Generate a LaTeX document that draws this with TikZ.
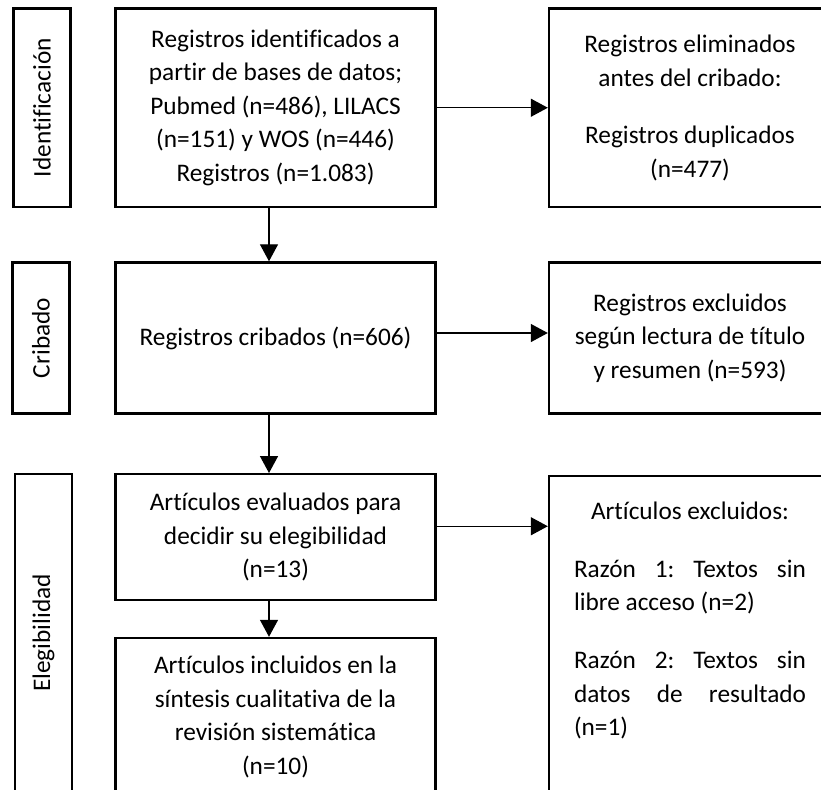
\documentclass[tikz,border=0pt]{standalone}
\usepackage{fontspec}
\setmainfont{Carlito}[Ligatures=NoCommon]
\usetikzlibrary{arrows.meta, positioning, calc}

\begin{document}
\begin{tikzpicture}[x=1pt, y=-1pt,
    font=\fontsize{25.3}{33.5}\selectfont,
    caja/.style={draw, line width=2.4pt, inner sep=0pt},
    centro/.style={caja, align=center},
    etapa/.style={caja, rotate=90, minimum height=57pt},
    flecha/.style={line width=1.3pt, -{Triangle[length=17pt, width=18pt]}}]
    \useasboundingbox (0,0) rectangle (821,789);
    \clip (0,0) rectangle (821,789);
    % etapas
    \node[etapa, minimum width=198.5pt] (ident) at (42,107.75) {Identificación};
    \node[etapa, minimum width=151pt] (crib) at (41,338) {Cribado};
    \node[etapa, minimum width=318pt] (eleg) at (43.5,633) {Elegibilidad};
    % columna central
    \node[centro, minimum width=320pt, minimum height=198.5pt] (reg) at (275.5,107.75) {Registros identificados a\\partir de bases de datos;\\Pubmed (n=486), LILACS\\(n=151) y WOS (n=446)\\Registros (n=1.083)};
    \node[centro, minimum width=320pt, minimum height=151pt] (crb) at (275.5,338) {Registros cribados (n=606)};
    \node[centro, minimum width=320pt, minimum height=126pt] (eval) at (275.5,537.25) {Artículos evaluados para\\decidir su elegibilidad\\(n=13)};
    \node[centro, minimum width=320pt, minimum height=158pt] (incl) at (275.5,717) {Artículos incluidos en la\\síntesis cualitativa de la\\revisión sistemática\\(n=10)};
    % columna derecha
    \node[centro, minimum width=282pt, minimum height=198.5pt] (dup) at (690,107.75) {Registros eliminados\\antes del cribado:\\[24pt]Registros duplicados\\(n=477)};
    \node[centro, minimum width=282pt, minimum height=151pt] (exc) at (690,338) {Registros excluidos\\según lectura de título\\y resumen (n=593)};
    \node[caja, anchor=north, inner xsep=25pt, inner ysep=26pt] (art) at (690,474.5) {\parbox[t][300pt][t]{232pt}{\frenchspacing
        {\centering Artículos excluidos:\par}
        \vspace{24.5pt}
        Razón 1: Textos sin\linebreak libre acceso (n=2)\par
        \vspace{24.5pt}
        Razón 2: Textos sin\linebreak datos de resultado\linebreak (n=1)}};
    % flechas
    \draw[flecha] ([xshift=-6.5pt]reg.south) -- ([xshift=-6.5pt]crb.north);
    \draw[flecha] ([xshift=-6.5pt]crb.south) -- ([xshift=-6.5pt]eval.north);
    \draw[flecha] ([xshift=-6.5pt]eval.south) -- ([xshift=-6.5pt]incl.north);
    \draw[flecha] (reg.east) -- (dup.west);
    \draw[flecha] ([yshift=5pt]crb.east) -- ([yshift=5pt]exc.west);
    \draw[flecha] ([yshift=11pt]eval.east) -- ([yshift=11pt]eval.east -| art.west);
\end{tikzpicture}
\end{document}
